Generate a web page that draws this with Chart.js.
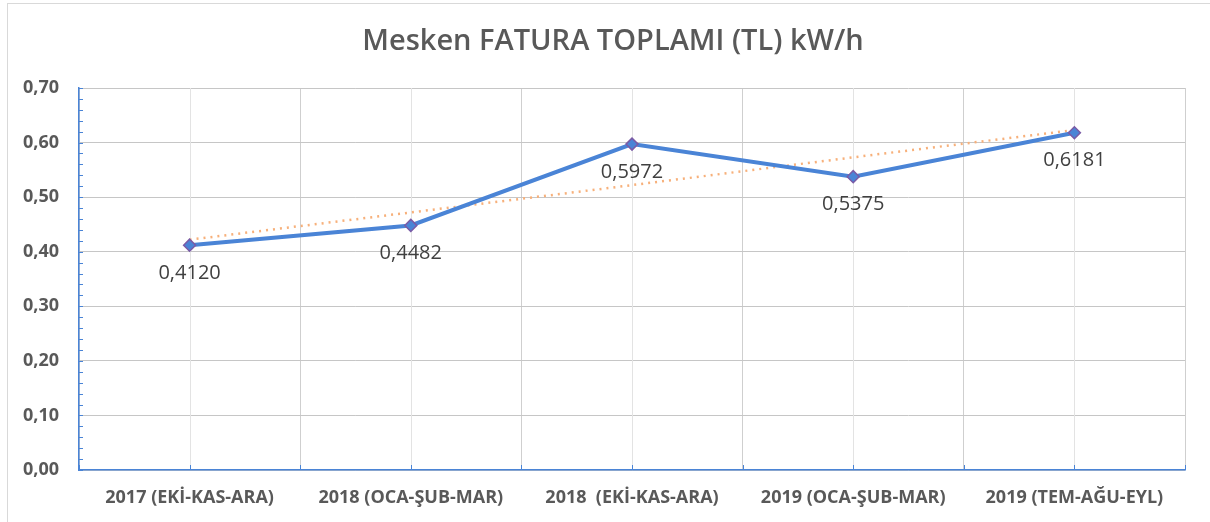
<!DOCTYPE html>
<html>
<head>
<meta charset="utf-8">
<script src="https://cdn.jsdelivr.net/npm/chart.js@4"></script>
<style>
    html, body { margin: 0; padding: 0; background: #fff; overflow: hidden; }
    #wrap { position: relative; width: 1210px; height: 522px; }
    #frame { position: absolute; left: 7px; top: 3px; width: 1220px; height: 540px; border: 1px solid #d9d9d9; box-sizing: border-box; }
    canvas { position: absolute; left: 0; top: 0; }
</style>
</head>
<body>
<div id="wrap">
    <div id="frame"></div>
    <canvas id="chart" width="1210" height="522"></canvas>
</div>
<script>
// Mesken FATURA TOPLAMI — line with linear trend

const TITLE      = "Mesken FATURA TOPLAMI (TL) kW/h";
const periods    = ["2017 (EKİ-KAS-ARA)", "2018 (OCA-ŞUB-MAR)", "2018  (EKİ-KAS-ARA)", "2019 (OCA-ŞUB-MAR)", "2019 (TEM-AĞU-EYL)"];
const faturaKwh  = [0.4120, 0.4482, 0.5972, 0.5375, 0.6181];
const trendKwh   = [0.422, 0.472, 0.522, 0.573, 0.623];
const Y_MIN      = 0;
const Y_MAX      = 0.70;
const Y_STEP     = 0.10;
const MINOR_STEP = 0.02;

const BLUE   = "#4a84d6";
const PURPLE = "#7a5ba6";
const ORANGE = "#f7b07a";
const FONT   = "'Open Sans', 'DejaVu Sans', sans-serif";

const comma = (v, d) => v.toFixed(d).replace(".", ",");

// light centre gridlines + minor ticks on both axes
const axisDecor = {
    id: "axisDecor",
    beforeDatasetsDraw(chart) {
        const { ctx, chartArea: a, scales: { x, y } } = chart;
        ctx.save();
        ctx.strokeStyle = "#e3e3e3";
        ctx.lineWidth = 1;
        periods.forEach((_, i) => {
            const px = Math.round(x.getPixelForValue(i)) + 0.5;
            ctx.beginPath();
            ctx.moveTo(px, a.top);
            ctx.lineTo(px, a.bottom);
            ctx.stroke();
        });
        ctx.strokeStyle = BLUE;
        for (let v = Y_MIN; v <= Y_MAX + 1e-9; v += MINOR_STEP) {
            const py = Math.round(y.getPixelForValue(v)) + 0.5;
            ctx.beginPath();
            ctx.moveTo(a.left, py);
            ctx.lineTo(a.left + 4, py);
            ctx.stroke();
        }
        for (let i = 0; i <= periods.length; i++) {
            const px = Math.round(x.getPixelForValue(i - 0.5)) + 0.5;
            const pc = Math.round(x.getPixelForValue(Math.min(i, periods.length - 1))) + 0.5;
            ctx.beginPath();
            ctx.moveTo(px, a.bottom);
            ctx.lineTo(px, a.bottom - 5);
            ctx.moveTo(pc, a.bottom);
            ctx.lineTo(pc, a.bottom - 5);
            ctx.stroke();
        }
        ctx.restore();
    }
};

// value labels under each point, and the title (sits a bit right of centre)
const pointLabels = {
    id: "pointLabels",
    afterDatasetsDraw(chart) {
        const { ctx } = chart;
        const meta = chart.getDatasetMeta(0);
        ctx.save();
        ctx.font = `20px ${FONT}`;
        ctx.fillStyle = "#404040";
        ctx.textAlign = "center";
        ctx.textBaseline = "middle";
        meta.data.forEach((pt, i) => {
            ctx.fillText(comma(faturaKwh[i], 4), pt.x, pt.y + 28);
        });
        ctx.font = `600 29px ${FONT}`;
        ctx.fillStyle = "#595959";
        ctx.fillText(TITLE, 613, 42);
        ctx.restore();
    }
};

new Chart(document.getElementById("chart"), {
    type: "line",
    data: {
        labels: periods,
        datasets: [
            {
                label:                TITLE,
                data:                 faturaKwh,
                borderColor:          BLUE,
                borderWidth:          4,
                pointStyle:           "rectRot",
                pointRadius:          6,
                pointBackgroundColor: BLUE,
                pointBorderColor:     PURPLE,
                pointBorderWidth:     1.5,
                tension:              0,
                order:                1,
            },
            {
                label:       "Trend",
                data:        trendKwh,
                borderColor: ORANGE,
                borderWidth: 2.5,
                borderDash:  [2, 5],
                pointRadius: 0,
                tension:     0,
                order:       2,
            }
        ]
    },
    options: {
        responsive: false,
        animation:  false,
        layout: { padding: { left: 0, right: 25, top: 88, bottom: 0 } },
        plugins: {
            legend:  { display: false },
            tooltip: { enabled: false },
            title:   { display: false },
        },
        scales: {
            x: {
                offset: true,
                grid:   { offset: true, color: "#cfcfcf", drawTicks: false },
                border: { color: BLUE, width: 1.5 },
                ticks:  { color: "#595959", padding: 17, font: { family: FONT, size: 18, weight: "bold" } },
                afterFit: s => { s.height = 52; },
            },
            y: {
                min: Y_MIN,
                max: Y_MAX,
                grid:   { color: "#c6c6c6", drawTicks: false },
                border: { color: BLUE, width: 1.5 },
                ticks:  {
                    stepSize: Y_STEP,
                    padding:  20,
                    color:    "#595959",
                    font:     { family: FONT, size: 18, weight: "bold" },
                    callback: v => comma(v, 2),
                },
                afterFit: s => { s.width = 79; },
            }
        }
    },
    plugins: [axisDecor, pointLabels]
});
</script>
</body>
</html>
